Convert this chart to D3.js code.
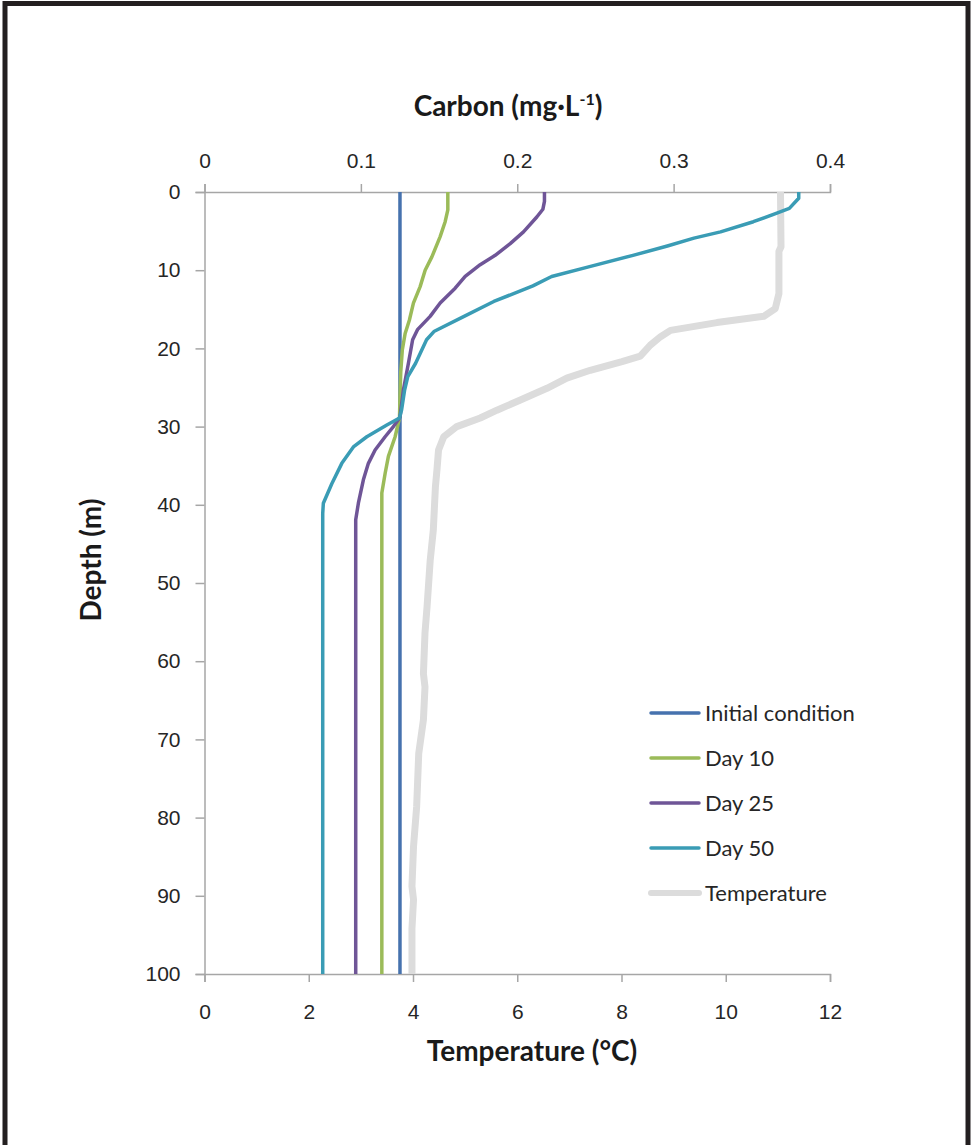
<!DOCTYPE html>
<html>
<head>
<meta charset="utf-8">
<script src="https://cdn.jsdelivr.net/npm/d3@7"></script>
<style>
	body { margin: 0; background: #fff; }
	svg { display: block; font-family: Lato, "Open Sans", sans-serif; }
	.axis path, .axis line { stroke: #a6a6a6; stroke-width: 1.5; }
	.axis text { font-size: 21px; fill: #262626; }
	.title { font-size: 28px; font-weight: bold; fill: #1a1a1a; }
	.legend text { font-size: 22px; fill: #262626; }
</style>
</head>
<body>
<div id="chart"></div>
<script>
// Depth ticks and axis ranges
var depthTicks = [0, 10, 20, 30, 40, 50, 60, 70, 80, 90, 100];
var carbonTicks = [0, 0.1, 0.2, 0.3, 0.4];
var tempTicks = [0, 2, 4, 6, 8, 10, 12];

// Carbon profiles (depth in m, carbon in mg/L)
var initDepth = [0, 100];
var initCarbon = [0.125, 0.125];

var day10Depth = [0, 2.3, 3.8, 5.7, 8.3, 10.0, 12.1, 14.2, 16.4, 18.1, 20.2, 23, 26.2, 28.9, 31.3, 33.8, 36.0, 38.5, 40, 100];
var day10Carbon = [0.1556, 0.1556, 0.1539, 0.1507, 0.1454, 0.1411, 0.1379, 0.1336, 0.1310, 0.1283, 0.1265, 0.1255, 0.125, 0.1247, 0.1219, 0.1176, 0.1155, 0.1134, 0.1134, 0.1134];

var day25Depth = [0, 1.2, 2.2, 3.2, 5.1, 6.6, 8.1, 9.3, 10.8, 12.3, 14.2, 15.9, 17.6, 18.9, 21.9, 25.3, 28.8, 30.0, 31.3, 33.0, 34.7, 36.8, 39.8, 41.9, 100];
var day25Carbon = [0.2174, 0.2174, 0.2164, 0.2125, 0.204, 0.1955, 0.1859, 0.1763, 0.1667, 0.1603, 0.1507, 0.1443, 0.1362, 0.1331, 0.1304, 0.1272, 0.125, 0.1208, 0.1155, 0.1091, 0.1048, 0.1016, 0.0984, 0.0967, 0.0967];

var day50Depth = [0, 0.8, 2.1, 2.7, 3.8, 5.1, 5.9, 6.9, 8.1, 9.6, 10.8, 12.0, 14.0, 15.9, 17.8, 18.9, 21.9, 23.6, 25.3, 27.9, 28.9, 29.8, 31.3, 32.6, 34.7, 37.3, 39.8, 41.1, 100];
var day50Carbon = [0.380, 0.380, 0.374, 0.366, 0.351, 0.330, 0.313, 0.296, 0.274, 0.245, 0.222, 0.210, 0.185, 0.166, 0.147, 0.142, 0.135, 0.130, 0.128, 0.126, 0.1247, 0.1166, 0.1038, 0.0952, 0.0878, 0.0814, 0.0760, 0.0756, 0.0756];

// Temperature profile (deg C)
var tempDepth = [0, 7.0, 7.6, 13.0, 14.9, 15.9, 16.7, 17.7, 18.5, 19.6, 21.0, 21.7, 22.8, 23.8, 25.1, 26.6, 27.9, 28.9, 30.0, 31.3, 33.0, 35.5, 37.7, 43.2, 47.1, 53.0, 56.4, 61.6, 63.3, 67.5, 71.8, 78.6, 83.7, 88.8, 90.5, 94.2, 100];
var tempValues = [11.05, 11.06, 11.02, 11.02, 10.95, 10.73, 9.83, 8.94, 8.75, 8.55, 8.36, 8.01, 7.40, 6.95, 6.57, 6.06, 5.61, 5.29, 4.84, 4.59, 4.49, 4.46, 4.43, 4.39, 4.33, 4.27, 4.23, 4.20, 4.23, 4.20, 4.11, 4.07, 4.01, 3.98, 4.01, 3.98, 3.98];

var legendLabels = ["Initial condition", "Day 10", "Day 25", "Day 50", "Temperature"];
var colors = ["#4672ae", "#9bbb59", "#6f5597", "#3a9cb5", "#dcdcdc"];

var width = 972, height = 1145;
var margin = {top: 192, right: 142, bottom: 171, left: 204.5};

var svg = d3.select("#chart").append("svg")
	.attr("width", width)
	.attr("height", height);

svg.append("rect")
	.attr("width", width).attr("height", height)
	.attr("fill", "#fff");

//Frame
svg.append("rect")
	.attr("x", 5).attr("y", 3.5)
	.attr("width", 963).attr("height", 1144)
	.attr("fill", "none")
	.attr("stroke", "#231f20")
	.attr("stroke-width", 5);

var xCarbon = d3.scaleLinear().domain([0, 0.4]).range([margin.left, width - margin.right]);
var xTemp = d3.scaleLinear().domain([0, 12]).range([margin.left, width - margin.right]);
var yDepth = d3.scaleLinear().domain([0, 100]).range([margin.top, height - margin.bottom]);

//Axes
svg.append("g")
	.attr("class", "axis")
	.attr("transform", "translate(0," + margin.top + ")")
	.call(d3.axisTop(xCarbon).tickValues(carbonTicks).tickSize(8).tickSizeOuter(8).tickPadding(16)
		.tickFormat(function(d){ return d === 0 ? "0" : d3.format(".1f")(d); }));

svg.append("g")
	.attr("class", "axis")
	.attr("transform", "translate(0," + yDepth(100) + ")")
	.call(d3.axisBottom(xTemp).tickValues(tempTicks).tickSize(8).tickSizeOuter(8).tickPadding(22));

svg.append("g")
	.attr("class", "axis")
	.attr("transform", "translate(" + margin.left + ",0)")
	.call(d3.axisLeft(yDepth).tickValues(depthTicks).tickSize(9).tickSizeOuter(9).tickPadding(15));

svg.selectAll(".axis text").attr("font-family", null);

//Lines
var carbonLine = function(depths, vals){
	return d3.line()
		.x(function(d, i){ return xCarbon(vals[i]); })
		.y(function(d){ return yDepth(d); })(depths);
};

var lines = svg.append("g").attr("fill", "none").attr("stroke-linejoin", "round");

lines.append("path")
	.attr("d", d3.line()
		.x(function(d, i){ return xTemp(tempValues[i]); })
		.y(function(d){ return yDepth(d); })(tempDepth))
	.attr("stroke", colors[4])
	.attr("stroke-width", 7);

var series = [
	[initDepth, initCarbon],
	[day10Depth, day10Carbon],
	[day25Depth, day25Carbon],
	[day50Depth, day50Carbon]
];
series.forEach(function(s, i){
	lines.append("path")
		.attr("d", carbonLine(s[0], s[1]))
		.attr("stroke", colors[i])
		.attr("stroke-width", 3.5);
});

//Axis titles
var carbonTitle = svg.append("text")
	.attr("class", "title")
	.attr("text-anchor", "middle")
	.attr("x", 508).attr("y", 116);
carbonTitle.append("tspan").text("Carbon (mg·L");
carbonTitle.append("tspan").attr("font-size", "16px").attr("dy", -11).text("-1");
carbonTitle.append("tspan").attr("dy", 11).text(")");

svg.append("text")
	.attr("class", "title")
	.attr("text-anchor", "middle")
	.attr("x", 532).attr("y", 1061)
	.text("Temperature (°C)");

svg.append("text")
	.attr("class", "title")
	.attr("text-anchor", "middle")
	.attr("transform", "translate(101,560)rotate(-90)")
	.text("Depth (m)");

//Legend
var legend = svg.append("g").attr("class", "legend");
legendLabels.forEach(function(label, i){
	var y = 713 + i * 45;
	legend.append("line")
		.attr("x1", 651).attr("x2", 699)
		.attr("y1", y).attr("y2", y)
		.attr("stroke", colors[i])
		.attr("stroke-width", i === 4 ? 6 : 3.5)
		.attr("stroke-linecap", "round");
	legend.append("text")
		.attr("x", 705).attr("y", y)
		.attr("dy", "0.35em")
		.text(label);
});
</script>
</body>
</html>
